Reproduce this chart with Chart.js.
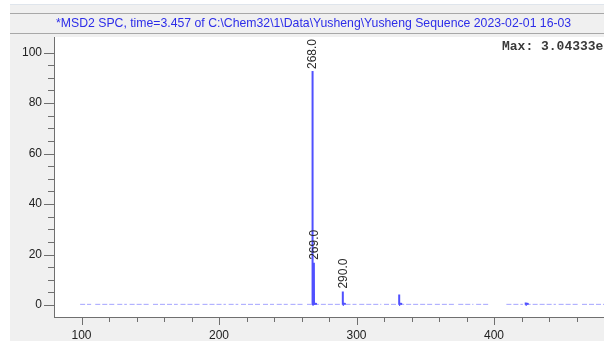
<!DOCTYPE html>
<html>
<head>
<meta charset="utf-8">
<script src="https://cdn.jsdelivr.net/npm/chart.js@4/dist/chart.umd.min.js"></script>
<style>
  html, body { margin: 0; padding: 0; background: #ffffff; overflow: hidden; }
  #wrap { position: relative; width: 604px; height: 341px; }
</style>
</head>
<body>
<div id="wrap"><canvas id="spec" width="604" height="341"></canvas></div>
<script>
// Spectrum header and annotation
const titleText = '*MSD2 SPC, time=3.457 of C:\\Chem32\\1\\Data\\Yusheng\\Yusheng Sequence 2023-02-01 16-03';
const maxText = 'Max: 3.04333e5';

// Ion peaks (m/z, relative abundance %)
const peakMz = [268, 269, 290, 331, 423];
const peakAbund = [100, 16.7, 5.3, 4.2, 1.0];
const labelledMz = [268, 269, 290];

// Baseline noise stretches (m/z from / to) and their level
const noiseFrom = [99, 104, 110, 126, 135, 152, 172, 188, 207, 216, 232, 242, 252, 264, 269, 292, 302, 320, 331, 357, 374, 387, 409, 423, 447, 464];
const noiseTo   = [103, 107, 124, 133, 150, 170, 186, 205, 214, 230, 240, 250, 262, 267, 289, 300, 318, 329, 355, 372, 385, 396, 421, 445, 462, 480];
const noiseLevel = 0.25;

// Axis ticks
const xTicks = [100, 120, 140, 160, 180, 200, 220, 240, 260, 280, 300, 320, 340, 360, 380, 400, 420, 440, 460];
const xLabelled = [100, 200, 300, 400];
const yTicks = [0, 5, 10, 15, 20, 25, 30, 35, 40, 45, 50, 55, 60, 65, 70, 75, 80, 85, 90, 95, 100];
const yLabelled = [0, 20, 40, 60, 80, 100];

// Stick lines: baseline -> apex -> baseline, separated by gaps
const stickPoints = [];
peakMz.forEach((mz, i) => {
  stickPoints.push({ x: mz, y: 0 }, { x: mz, y: peakAbund[i] }, { x: mz + 0.1, y: 0.6 }, { x: mz + 2.2, y: 0.4 }, { x: mz + 2.2, y: null });
});
const noisePoints = [];
noiseFrom.forEach((a, i) => {
  noisePoints.push({ x: a, y: noiseLevel }, { x: noiseTo[i], y: noiseLevel }, { x: noiseTo[i], y: null });
});

const GRAY = '#f0f0f0';
const AXIS = '#6f6f6f';
const LABEL_FONT = '12px "Liberation Sans", Arial, sans-serif';

const frame = {
  id: 'frame',
  beforeDraw(chart) {
    const { ctx, chartArea: a, width, height } = chart;
    ctx.save();
    ctx.fillStyle = '#ffffff';
    ctx.fillRect(0, 0, width, height);
    ctx.fillStyle = GRAY;
    ctx.fillRect(10, 4, width - 10, height - 4);
    ctx.fillStyle = '#dfe5ec';
    ctx.fillRect(10, 4, width - 10, 1);
    ctx.fillStyle = '#a8a8a8';
    ctx.fillRect(10, 13, width - 10, 1);
    ctx.fillRect(10, 33, width - 10, 1);
    ctx.fillStyle = '#ffffff';
    ctx.fillRect(a.left, a.top, a.right - a.left, a.bottom - a.top);
    ctx.font = '12.25px "Liberation Sans", Arial, sans-serif';
    ctx.fillStyle = '#2d2de8';
    ctx.textBaseline = 'middle';
    ctx.fillText(titleText, 56, 23.5);
    ctx.restore();
  },
  afterDraw(chart) {
    const { ctx, chartArea: a, scales: { x, y } } = chart;
    ctx.save();
    ctx.strokeStyle = AXIS;
    ctx.lineWidth = 1;
    ctx.beginPath();
    xTicks.forEach(v => {
      const px = Math.round(x.getPixelForValue(v)) + 0.5;
      const len = xLabelled.includes(v) ? 8 : 5;
      ctx.moveTo(px, a.bottom);
      ctx.lineTo(px, a.bottom + len);
    });
    yTicks.forEach(v => {
      const py = Math.round(y.getPixelForValue(v)) + 0.5;
      const len = yLabelled.includes(v) ? 10 : 6;
      ctx.moveTo(a.left, py);
      ctx.lineTo(a.left - len, py);
    });
    ctx.stroke();
    ctx.font = 'bold 13px "Liberation Mono", "Courier New", monospace';
    ctx.fillStyle = '#3a3a3a';
    ctx.textBaseline = 'middle';
    ctx.fillText(maxText, 502, 47);
    ctx.restore();
  },
  afterDatasetsDraw(chart) {
    const { ctx, chartArea: a, scales: { x, y } } = chart;
    ctx.save();
    ctx.font = LABEL_FONT;
    labelledMz.forEach(mz => {
      const i = peakMz.indexOf(mz);
      const text = mz.toFixed(1);
      const w = ctx.measureText(text).width;
      const px = x.getPixelForValue(mz);
      const py = y.getPixelForValue(peakAbund[i]);
      let bottom = py - 3;
      let top = bottom - w;
      let clamped = false;
      if (top < a.top + 2) { top = a.top + 2; bottom = top + w; clamped = true; }
      if (clamped) {
        ctx.fillStyle = '#ffffff';
        ctx.fillRect(px - 7, top - 1, 14, w + 3);
      }
      ctx.save();
      ctx.translate(px + 0.5, (top + bottom) / 2);
      ctx.rotate(-Math.PI / 2);
      ctx.fillStyle = '#2b2b2b';
      ctx.textAlign = 'center';
      ctx.textBaseline = 'middle';
      ctx.fillText(text, 0, 0);
      ctx.restore();
    });
    ctx.restore();
  }
};

new Chart(document.getElementById('spec'), {
  type: 'line',
  data: {
    datasets: [
      { data: noisePoints, borderColor: 'rgba(90,90,255,0.55)', borderWidth: 1, borderDash: [5, 2], pointRadius: 0, spanGaps: false },
      { data: stickPoints, borderColor: '#5050ff', borderWidth: 2, pointRadius: 0, spanGaps: false }
    ]
  },
  options: {
    responsive: false,
    animation: false,
    devicePixelRatio: 1,
    layout: { padding: { left: 0, top: 37, right: 0, bottom: 0 } },
    plugins: { legend: { display: false }, tooltip: { enabled: false } },
    scales: {
      x: {
        type: 'linear', min: 80, max: 480,
        grid: { display: false, drawTicks: false },
        border: { display: true, color: AXIS, width: 1 },
        afterBuildTicks: s => { s.ticks = xTicks.map(v => ({ value: v })); },
        afterFit: s => { s.height = 24; },
        ticks: {
          autoSkip: false, maxRotation: 0, padding: 11, color: '#222222',
          font: { family: '"Liberation Sans", Arial, sans-serif', size: 12 },
          callback: v => xLabelled.includes(v) ? String(v) : ''
        }
      },
      y: {
        type: 'linear', min: -4.76, max: 106.2,
        grid: { display: false, drawTicks: false },
        border: { display: true, color: AXIS, width: 1 },
        afterBuildTicks: s => { s.ticks = yTicks.map(v => ({ value: v })); },
        afterFit: s => { s.width = 54; },
        ticks: {
          autoSkip: false, padding: 12, color: '#222222',
          font: { family: '"Liberation Sans", Arial, sans-serif', size: 12 },
          callback: v => yLabelled.includes(v) ? String(v) : ''
        }
      }
    }
  },
  plugins: [frame]
});
</script>
</body>
</html>
